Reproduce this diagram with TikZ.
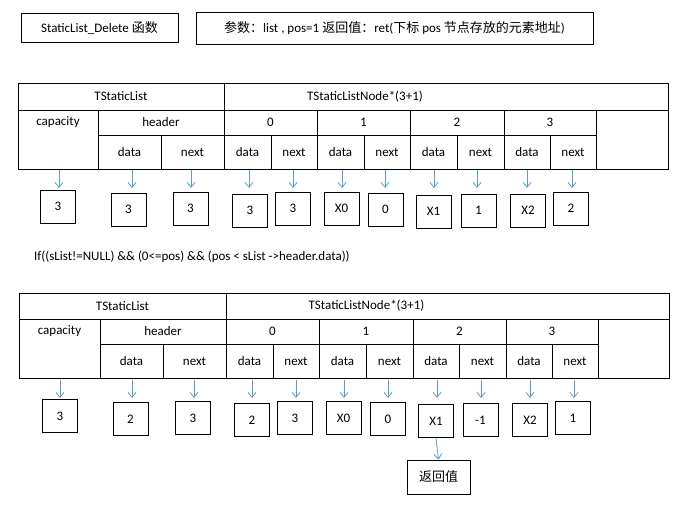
\documentclass[tikz,border=0pt]{standalone}
\usepackage{fontspec}
\setmainfont{Carlito}
\newfontfamily\cjk{Noto Sans CJK SC}
\usetikzlibrary{arrows.meta}
\begin{document}
\begin{tikzpicture}[x=1pt,y=-1pt,
  cell/.style={draw,line width=0.8pt},
  valbox/.style={draw,line width=0.8pt,minimum width=35pt,minimum height=33pt,inner sep=0pt,font=\fontsize{13}{15}\selectfont},
  txt/.style={font=\fontsize{13}{15}\selectfont,inner sep=0pt},
  arr/.style={color={rgb,255:red,91;green,155;blue,213},line width=0.8pt,-{Straight Barb[length=5pt,width=8pt]}}]
\useasboundingbox (0,0) rectangle (674,510);
% top boxes
\node[draw,line width=0.8pt,minimum width=157pt,minimum height=29pt,txt] (title) at (99.5,27.5) {StaticList\_Delete {\cjk 函数}};
\node[draw,line width=0.8pt,minimum width=397pt,minimum height=32pt,txt] (params) at (394.5,28) {{\cjk 参数：}list , pos=1 {\cjk 返回值：}ret({\cjk 下标} pos {\cjk 节点存放的元素地址})};
\node[txt,anchor=west] (cond) at (34,257) {If((sList!=NULL) \&\& (0<=pos) \&\& (pos < sList ->header.data))};
\newcommand\mytable[9]{%
 \draw[cell] (#6,#2) rectangle (#7,#5);
 \draw[cell] (#6,#3) -- (#7,#3);
 \draw[cell] (#8,#2) -- (#8,#5);
 \draw[cell] (#9,#3) -- (#9,#5);
 \node[txt] (#1tsl) at ({(#6+#8)/2},{(#2+#3)/2}) {TStaticList};
 \node[txt] (#1tsn) at ({(#8+#7)/2-81},{(#2+#3)/2}) {TStaticListNode*(3+1)};
 \node[txt] (#1cap) at ({(#6+#9)/2},{(#3+#4)/2}) {capacity};
}
% table 1
\mytable{a}{83}{110}{135}{169}{18}{668}{224}{98}
\draw[cell] (98,135) -- (224,135) (161,135) -- (161,169);
\node[txt] (ahdr) at (161,122.5) {header};
\node[txt] (ahd) at (129.5,152) {data};
\node[txt] (ahn) at (192.5,152) {next};
\draw[cell] (596,110) -- (596,169) (224,135) -- (596,135);
\foreach \l/\r/\m/\i in {224/317/271/0,317/410/364/1,410/504/457/2,504/596/550/3}{
  \draw[cell] (\r,110) -- (\r,169) (\m,135) -- (\m,169);
  \node[txt] (ai\i) at ({(\l+\r)/2},122.5) {\i};
  \node[txt] (ad\i) at ({(\l+\m)/2},152) {data};
  \node[txt] (an\i) at ({(\m+\r)/2},152) {next};
}
\foreach \n/\x/\y/\v/\ax in {b1/58/206.5/3/59,b2/128.5/209.5/3/132,b3/190.5/208.5/3/191,b4/250/210.5/3/249,b5/293/208.5/3/293,b6/341.5/208.5/X0/342,b7/385.5/209.5/0/385,b8/433.5/211.5/X1/434,b9/478.5/210.5/1/477,b10/528/210.5/X2/527,b11/571/208.5/2/572}{
  \node[valbox] (\n) at (\x,\y) {\v};
  \coordinate (\n s) at (\ax,170);
  \draw[arr] (\n s) -- (\ax,188);
}
% table 2
\mytable{c}{293}{319}{344}{378}{19}{669}{226}{100}
\draw[cell] (100,344) -- (226,344) (163,344) -- (163,378);
\node[txt] (chdr) at (163,331.5) {header};
\node[txt] (chd) at (131.5,361) {data};
\node[txt] (chn) at (194.5,361) {next};
\draw[cell] (598,319) -- (598,378) (226,344) -- (598,344);
\foreach \l/\r/\m/\i in {226/319/273/0,319/413/366/1,413/506/459/2,506/598/552/3}{
  \draw[cell] (\r,319) -- (\r,378) (\m,344) -- (\m,378);
  \node[txt] (ci\i) at ({(\l+\r)/2},331.5) {\i};
  \node[txt] (cd\i) at ({(\l+\m)/2},361) {data};
  \node[txt] (cn\i) at ({(\m+\r)/2},361) {next};
}
\foreach \n/\x/\y/\v/\ax in {d1/60/416/3/60,d2/130.5/419/2/132,d3/193/418/3/194,d4/252/420/2/252,d5/295/418/3/296,d6/343.5/418/X0/344,d7/388/419/0/388,d8/436/421/X1/437,d9/480.5/420/-1/481,d10/530/420/X2/530,d11/573/418/1/574}{
  \node[valbox] (\n) at (\x,\y) {\v};
  \coordinate (\n s) at (\ax,380);
  \draw[arr] (\n s) -- (\ax,398);
}
\node[valbox,minimum width=63pt,minimum height=34pt] (ret) at (438.5,477) {\cjk 返回值};
\draw[arr] (d8.south) -- (ret.north);
\end{tikzpicture}
\end{document}
